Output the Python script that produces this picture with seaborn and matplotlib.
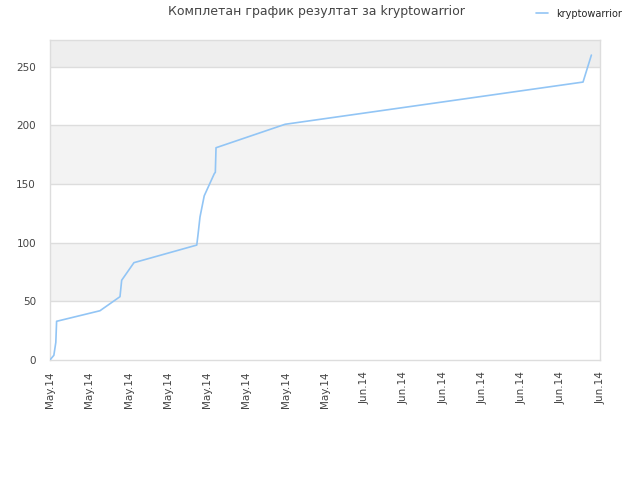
import pandas as pd
import matplotlib
matplotlib.use("Agg")
import matplotlib.pyplot as plt
import seaborn as sns

# score progress
times = [
    "2014-05-01 00:00", "2014-05-01 02:24", "2014-05-01 09:36", "2014-05-01 14:24",
    "2014-05-01 16:19", "2014-05-06 02:10", "2014-05-08 03:07", "2014-05-08 07:12",
    "2014-05-09 13:12", "2014-05-15 22:33", "2014-05-16 01:40", "2014-05-16 06:29",
    "2014-05-16 16:48", "2014-05-17 17:31", "2014-05-17 19:55", "2014-05-17 21:36",
    "2014-05-24 22:19", "2014-06-24 05:46", "2014-06-25 02:10",
]
scores = [0, 1, 4, 15, 33, 42, 54, 68, 83, 98, 107, 122, 140, 159, 160, 181, 201, 237, 260]
player = "kryptowarrior"
title = "Комплетан график резултат за kryptowarrior"

df = pd.DataFrame({"time": pd.to_datetime(times), "score": scores, "player": player})

sns.set_style("white")
plt.rcParams["font.family"] = ["DejaVu Sans"]

fig = plt.figure(figsize=(6.4, 4.8), dpi=100)
ax = fig.add_axes([0.078, 0.25, 0.86, 0.667])

# alternating horizontal bands
bands = [(50, 100, "#f3f3f3"), (150, 200, "#f3f3f3"), (250, 273, "#eeeeee")]
for lo, hi, col in bands:
    ax.axhspan(lo, hi, color=col, zorder=0, lw=0)
for yv in [50, 100, 150, 200, 250]:
    ax.axhline(yv, color="#dddddd", lw=1, zorder=1)

sns.lineplot(data=df, x="time", y="score", hue="player", palette=["#92c5f5"],
             lw=1.2, ax=ax, zorder=3)

# ticks every 4 days across the range
xticks = pd.date_range("2014-05-01", "2014-06-26", freq="4D")
ax.set_xlim(xticks[0], xticks[-1])
ax.set_ylim(0, 273)
ax.set_yticks([0, 50, 100, 150, 200, 250])
ax.set_xticks(xticks)
ax.set_xticklabels([t.strftime("%b.%y") for t in xticks], rotation=90, ha="center", va="top")
ax.tick_params(axis="x", labelsize=7.5, colors="#444444", length=0, pad=8)
ax.tick_params(axis="y", labelsize=7.5, colors="#444444", length=0, pad=10)
ax.set_xlabel("")
ax.set_ylabel("")
for sp in ax.spines.values():
    sp.set_color("#dddddd")
    sp.set_linewidth(1)

fig.text(0.495, 0.975, title, ha="center", va="center", fontsize=9, color="#444444")
ax.legend(loc="upper right", bbox_to_anchor=(0.985, 1.0), bbox_transform=fig.transFigure,
          frameon=False, fontsize=7, handlelength=1.2, borderaxespad=0.5)

fig.savefig("out.png", dpi=100)
